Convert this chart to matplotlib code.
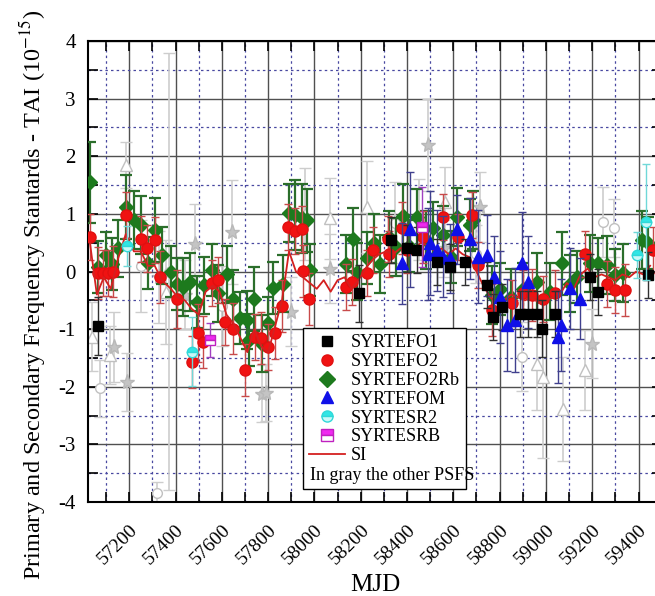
import numpy as np
import matplotlib.pyplot as plt
from matplotlib.lines import Line2D
from matplotlib.ticker import MultipleLocator

plt.rcParams['font.family'] = ['Liberation Serif', 'DejaVu Serif']
plt.rcParams['mathtext.fontset'] = 'stix'
plt.rcParams['axes.unicode_minus'] = False

# SYRTEFO1 (black squares)
fo1_mjd = [57066, 58194, 58330, 58398, 58442, 58528, 58585, 58650, 58744, 58773,
           58809, 58888, 58924, 58960, 58982, 59039, 59190, 59226, 59442]
fo1_val = [-0.95, -0.38, 0.55, 0.4, 0.37, 0.17, 0.08, 0.17, -0.24, -0.79,
           -0.61, -0.73, -0.73, -0.73, -0.99, -0.73, -0.09, -0.35, -0.06]
fo1_err = [0.5, 0.5, 0.4, 0.4, 0.4, 0.4, 0.4, 0.4, 0.4, 0.4,
           0.4, 0.4, 0.4, 0.4, 0.5, 0.4, 0.4, 0.4, 0.4]

# SYRTEFO2 (red circles)
fo2_mjd = [57030, 57063, 57088, 57109, 57131, 57184, 57250, 57275, 57311, 57333,
           57405, 57470, 57496, 57520, 57556, 57585, 57613, 57647, 57700, 57743,
           57769, 57800, 57829, 57858, 57887, 57916, 57945, 57952, 57978, 58136,
           58161, 58226, 58254, 58319, 58323, 58377, 58398, 58470, 58556, 58621,
           58679, 58708, 58766, 58852, 58902, 58938, 58988, 59039, 59169, 59262,
           59298, 59341, 59464]
fo2_val = [0.6, -0.03, -0.03, -0.02, 0.0, 0.98, 0.56, 0.40, 0.55, -0.1,
           -0.48, -1.57, -1.07, -1.22, -0.2, -0.15, -0.87, -0.99, -1.71, -1.13,
           -1.16, -1.31, -1.06, -0.6, 0.77, 0.71, 0.73, 0.01, -0.47, -0.27,
           -0.18, -0.03, 0.38, 0.56, 0.3, 0.75, 0.38, 0.6, 0.94, 0.6,
           0.98, 0.11, -0.67, -0.55, -0.38, -0.41, -0.48, -0.38, 0.31, -0.21,
           -0.32, -0.32, 0.37]
fo2_err = [0.4, 0.45, 0.4, 0.4, 0.45, 0.4, 0.4, 0.4, 0.4, 0.45,
           0.5, 0.45, 0.5, 0.45, 0.4, 0.4, 0.4, 0.45, 0.45, 0.4,
           0.45, 0.4, 0.45, 0.45, 0.4, 0.4, 0.4, 0.45, 0.45, 0.4,
           0.4, 0.4, 0.4, 0.4, 0.4, 0.45, 0.4, 0.45, 0.4, 0.4,
           0.4, 0.4, 0.45, 0.4, 0.4, 0.45, 0.4, 0.4, 0.4, 0.4,
           0.4, 0.45, 0.4]

# SYRTEFO2Rb (green diamonds)
rb_mjd = [57030, 57066, 57098, 57124, 57152, 57184, 57222, 57250, 57280, 57311,
          57343, 57380, 57405, 57433, 57462, 57491, 57523, 57556, 57585, 57621,
          57647, 57678, 57707, 57717, 57740, 57772, 57798, 57822, 57865, 57891,
          57916, 57945, 57966, 57981, 58136, 58165, 58185, 58226, 58257, 58283,
          58320, 58352, 58384, 58410, 58442, 58480, 58513, 58556, 58590, 58614,
          58672, 58686, 58766, 58800, 58850, 58900, 58960, 59017, 59068, 59104,
          59133, 59190, 59226, 59262, 59298, 59334, 59414, 59442]
rb_val = [1.55, 0.08, 0.28, 0.13, 0.40, 1.12, 0.89, 0.81, 0.15, 0.72,
          0.28, 0.0, -0.22, -0.27, -0.18, -0.53, -0.24, 0.02, -0.38, -0.05,
          -0.47, -0.81, -0.84, -1.19, -0.48, -1.25, -0.9, -0.29, -0.21, 1.01,
          0.98, 0.92, 0.89, 0.02, 0.13, 0.56, 0.0, 0.23, 0.49, 0.13,
          0.6, 0.43, 0.96, 0.45, 0.94, 0.55, 0.75, 0.63, 0.25, 0.95,
          0.81, 0.89, -0.41, -0.3, -0.45, -0.3, -0.18, -0.35, 0.14, -0.21,
          -0.09, 0.14, 0.14, 0.11, -0.06, -0.03, 0.55, 0.49]
rb_err = [0.7, 0.45, 0.4, 0.45, 0.5, 0.55, 0.5, 0.5, 0.45, 0.55,
          0.5, 0.45, 0.45, 0.5, 0.5, 0.45, 0.5, 0.45, 0.5, 0.5,
          0.5, 0.45, 0.5, 0.45, 0.55, 0.5, 0.45, 0.45, 0.5, 0.5,
          0.6, 0.6, 0.55, 0.45, 0.5, 0.55, 0.5, 0.45, 0.5, 0.5,
          0.45, 0.5, 0.55, 0.45, 0.5, 0.5, 0.45, 0.5, 0.45, 0.5,
          0.45, 0.5, 0.5, 0.45, 0.5, 0.45, 0.5, 0.5, 0.55, 0.5,
          0.45, 0.5, 0.45, 0.5, 0.45, 0.5, 0.5, 0.45]

# SYRTEFOM (blue triangles)
fom_mjd = [58377, 58413, 58490, 58499, 58528, 58556, 58585, 58614, 58672, 58708,
           58744, 58777, 58801, 58830, 58866, 58895, 58921, 59053, 59065, 59104, 59147]
fom_val = [0.14, 0.73, 0.3, 0.49, 0.37, 0.26, 0.23, 0.73, 0.57, 0.26,
           0.28, -0.09, -0.44, -0.93, -0.84, 0.14, -0.18, -1.13, -0.93, -0.29, -0.47]
fom_err = [0.7, 1.0, 0.8, 0.9, 0.7, 0.7, 0.6, 0.6, 0.7, 0.8,
           0.7, 0.7, 0.8, 0.8, 0.9, 0.9, 0.8, 0.8, 0.8, 0.7, 0.7]

# SYRTESR2 (cyan) and SYRTESRB (magenta)
sr2_mjd = [57189, 57472, 59392, 59431]
sr2_val = [0.44, -1.39, 0.28, 0.86]
sr2_err = [0.35, 0.6, 0.4, 1.0]
srb_mjd = [57549, 58463]
srb_val = [-1.19, 0.77]
srb_err = [0.3, 0.7]

# other PSFS (gray)
gray_star_mjd = [57135, 57189, 57330, 57440, 57484, 57643, 57772, 57790, 57900, 58065,
                 58492, 58560, 58715, 59198]
gray_star_val = [-1.31, -1.92, -0.1, -0.4, 0.48, 0.69, -2.12, -2.1, -0.7, 0.05,
                 2.19, 0.4, 1.12, -1.25]
gray_star_err = [0.6, 0.5, 0.8, 0.6, 0.7, 0.9, 0.5, 0.5, 0.6, 0.6,
                 0.8, 0.5, 0.6, 0.6]
gray_tri_mjd = [57040, 57115, 57184, 57360, 57960, 58069, 58226, 58564, 58960, 58988,
                59075, 59169]
gray_tri_val = [-1.13, -1.45, 1.85, -0.35, 1.0, 0.92, 1.12, 1.21, -1.6, -1.83,
                -2.38, -1.71]
gray_tri_err = [0.6, 0.5, 0.4, 0.9, 0.8, 0.7, 0.8, 0.6, 0.8, 1.4,
                0.9, 0.7]
gray_circ_mjd = [57073, 57250, 57320, 57372, 57600, 58350, 58450, 58700, 58895, 59247, 59295]
gray_circ_val = [-2.03, 0.1, -3.85, 0.0, -0.6, 0.85, 0.9, 0.3, -1.48, 0.86, 0.75]
gray_circ_err = [0.5, 0.8, 0.2, 3.8, 0.7, 0.7, 0.7, 0.5, 0.6, 0.6, 0.5]

# SI line
si_mjd = [57030, 57060, 57090, 57120, 57150, 57185, 57220, 57250, 57280, 57310,
          57340, 57380, 57410, 57440, 57470, 57500, 57530, 57560, 57590, 57620,
          57650, 57680, 57710, 57740, 57770, 57800, 57830, 57860, 57890, 57920,
          57950, 57980, 58010, 58040, 58070, 58100, 58130, 58160, 58190, 58220,
          58250, 58280, 58310, 58340, 58370, 58400, 58430, 58460, 58490, 58520,
          58550, 58580, 58610, 58640, 58670, 58700, 58730, 58760, 58790, 58820,
          58850, 58880, 58910, 58940, 58970, 59000, 59030, 59060, 59090, 59120,
          59150, 59180, 59210, 59240, 59270, 59300, 59330, 59360, 59390, 59420,
          59450]
si_val = [0.5, -0.4, -0.1, -0.3, 0.2, 0.65, 0.35, 0.35, 0.1, 0.1,
          -0.15, -0.3, -0.45, -0.5, -0.65, -0.75, -0.35, -0.25, -0.35, -0.75,
          -0.9, -1.15, -1.4, -1.0, -1.3, -1.4, -0.95, -0.5, 0.35, 0.0,
          -0.1, -0.2, -0.3, -0.15, -0.35, -0.15, -0.1, -0.3, -0.15, 0.05,
          0.2, 0.3, 0.35, 0.3, 0.4, 0.45, 0.4, 0.5, 0.45, 0.35,
          0.4, 0.3, 0.4, 0.3, 0.25, 0.0, -0.25, -0.45, -0.55, -0.5,
          -0.4, -0.45, -0.5, -0.45, -0.55, -0.5, -0.45, -0.4, -0.2, -0.3,
          -0.05, 0.05, -0.1, -0.05, -0.1, -0.15, -0.05, -0.1, 0.0, -0.05,
          0.1]

fig = plt.figure(figsize=(6.55, 5.96), dpi=100)
ax = fig.add_axes([0.1348, 0.1577, 0.8754, 0.7735])

gray = '#cdcdcd'
ax.errorbar(gray_circ_mjd, gray_circ_val, yerr=gray_circ_err, fmt='o', ms=7, mfc='white',
            mec='#c0c0c0', ecolor=gray, elinewidth=1.2, capsize=4, zorder=2)
ax.errorbar(gray_tri_mjd, gray_tri_val, yerr=gray_tri_err, fmt='^', ms=9, mfc='white',
            mec='#c0c0c0', ecolor=gray, elinewidth=1.2, capsize=4, zorder=2)
ax.errorbar(gray_star_mjd, gray_star_val, yerr=gray_star_err, fmt='*', ms=11, mfc='#c4c4c4',
            mec='#b8b8b8', ecolor=gray, elinewidth=1.2, capsize=4, zorder=2)

ax.errorbar(rb_mjd, rb_val, yerr=rb_err, fmt='D', ms=7.5, mfc='#1d7a1d', mec='#1d7a1d',
            ecolor='#2b6e2b', elinewidth=1.6, capsize=4, capthick=1.6, zorder=3)
ax.errorbar(fo2_mjd, fo2_val, yerr=fo2_err, fmt='o', ms=8, mfc='#f01212', mec='#e01010',
            ecolor='#c84a4a', elinewidth=1.0, capsize=3, zorder=4)
ax.errorbar(fom_mjd, fom_val, yerr=fom_err, fmt='^', ms=9, mfc='#1010e8', mec='#1010e8',
            ecolor='#40408e', elinewidth=1.0, capsize=3, zorder=5)
ax.errorbar(fo1_mjd, fo1_val, yerr=fo1_err, fmt='s', ms=7, mfc='black', mec='black',
            ecolor='#303030', elinewidth=1.0, capsize=3, zorder=5)
ax.errorbar(sr2_mjd, sr2_val, yerr=sr2_err, fmt='o', ms=7.5, mfc='#30e6e6', mec='#30d8d8',
            fillstyle='top', mfcalt='#c8f8f8', ecolor='#70d8d8', elinewidth=1.0, capsize=3, zorder=6)
ax.errorbar(srb_mjd, srb_val, yerr=srb_err, fmt='s', ms=7.5, mfc='#f028f0', mec='#c020c0',
            fillstyle='top', mfcalt='white', ecolor='#a040c0', elinewidth=1.0, capsize=3, zorder=6)
si_line, = ax.plot(si_mjd, si_val, color='#d42020', lw=1.3, zorder=4.5)

ax.set_xlim(57023, 59500)
ax.set_ylim(-4, 4)
ax.xaxis.set_major_locator(MultipleLocator(200))
ax.xaxis.set_minor_locator(MultipleLocator(100))
ax.yaxis.set_major_locator(MultipleLocator(1))
ax.yaxis.set_minor_locator(MultipleLocator(0.5))
ax.grid(which='major', color='#505050', lw=1.0, ls='-', zorder=0)
ax.grid(which='minor', color='#4848a0', lw=0.9, ls=(0, (2, 2.5)), zorder=0)
ax.set_axisbelow(True)
ax.tick_params(which='both', direction='in', top=True, right=True, length=7, width=1.2)
ax.tick_params(axis='y', labelsize=15, pad=9)
ax.tick_params(axis='x', labelsize=14, pad=14)
for lbl in ax.get_xticklabels():
    lbl.set_rotation(45)
    lbl.set_ha('right')
    lbl.set_va('top')
    lbl.set_rotation_mode('anchor')
for sp in ax.spines.values():
    sp.set_linewidth(1.5)

ax.set_xlabel('MJD', fontsize=18, labelpad=4)
ax.set_ylabel('Primary and Secondary Frequency Stantards - TAI (10$^{-15}$)', fontsize=17.5)
ax.yaxis.set_label_coords(-0.07, 0.45)

handles = [
    Line2D([], [], ls='none', marker='s', ms=7, mfc='black', mec='black'),
    Line2D([], [], ls='none', marker='o', ms=8, mfc='#f01212', mec='#e01010'),
    Line2D([], [], ls='none', marker='D', ms=8, mfc='#1d7a1d', mec='#1d7a1d'),
    Line2D([], [], ls='none', marker='^', ms=9, mfc='#1010e8', mec='#1010e8'),
    Line2D([], [], ls='none', marker='o', ms=8, mfc='#30e6e6', mec='#30d8d8',
           fillstyle='top', markerfacecoloralt='#c8f8f8'),
    Line2D([], [], ls='none', marker='s', ms=8, mfc='#f028f0', mec='#c020c0',
           fillstyle='top', markerfacecoloralt='white'),
    si_line,
    Line2D([], [], ls='none', alpha=0),
]
labels = ['SYRTEFO1', 'SYRTEFO2', 'SYRTEFO2Rb', 'SYRTEFOM', 'SYRTESR2', 'SYRTESRB', 'SI', ' ']
leg = ax.legend(handles, labels, loc='upper left', bbox_to_anchor=(0.3745, 0.3774),
                borderaxespad=0, fontsize=13, frameon=True, fancybox=False, framealpha=1,
                edgecolor='black', handlelength=2.0, handletextpad=0.3, labelspacing=0.1,
                borderpad=0.35)
leg.get_frame().set_linewidth(1.0)
leg.set_zorder(10)
ax.annotate('In gray the other PSFS', xy=(0, 0), xycoords=leg, xytext=(7, 5),
            textcoords='offset pixels', ha='left', va='bottom', fontsize=13, zorder=11)

fig.savefig('out.png', dpi=100)
